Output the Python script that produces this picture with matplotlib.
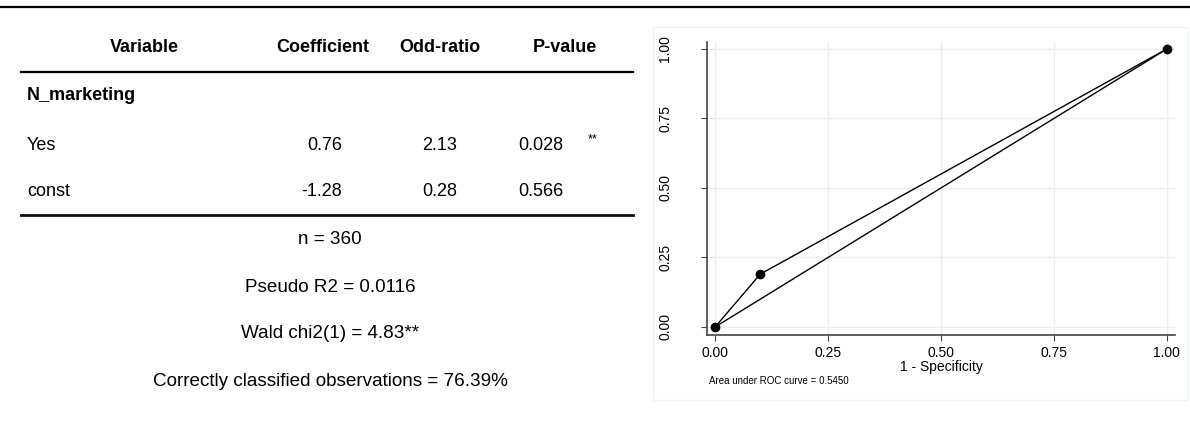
import matplotlib.pyplot as plt
from matplotlib.patches import Rectangle

plt.rcParams['font.family'] = ['Liberation Sans', 'DejaVu Sans']

# logit table
group = "N_marketing"
rows = ["Yes", "const"]
coefs = [0.76, -1.28]
odds = [2.13, 0.28]
pvals = [0.028, 0.566]
stars = ["**", ""]
headers = ["Variable", "Coefficient", "Odd-ratio", "P-value"]

stats = ["n = 360",
         "Pseudo R2 = 0.0116",
         "Wald chi2(1) = 4.83**",
         "Correctly classified observations = 76.39%"]

# ROC curve
fpr = [0.0, 0.10, 1.0]
tpr = [0.0, 0.19, 1.0]
auc = 0.5450
ticks = [0.0, 0.25, 0.50, 0.75, 1.00]

W, H = 1190, 437
fig = plt.figure(figsize=(W / 100, H / 100), dpi=100)

# overlay axes in pixel units for the table
tab = fig.add_axes([0, 0, 1, 1])
tab.set_xlim(0, W)
tab.set_ylim(H, 0)
tab.axis("off")

tab.plot([0, W], [7, 7], color="black", lw=1.6)
tab.plot([21, 633], [72, 72], color="black", lw=1.6)
tab.plot([21, 633], [215, 215], color="#111111", lw=2.0)

col_x = [144, 323, 440, 565]
for x, h in zip(col_x, headers):
    tab.text(x, 48, h, ha="center", va="center", fontsize=13, fontweight="bold")

tab.text(27, 96, group, ha="left", va="center", fontsize=13, fontweight="bold")

row_y = [145, 192]
for y, name, c, o, p, s in zip(row_y, rows, coefs, odds, pvals, stars):
    tab.text(27, y, name, ha="left", va="center", fontsize=13)
    tab.text(342, y, f"{c:.2f}", ha="right", va="center", fontsize=13)
    tab.text(440, y, f"{o:.2f}", ha="center", va="center", fontsize=13)
    tab.text(518, y, f"{p:.3f}", ha="left", va="center", fontsize=13)
    if s:
        tab.text(588, y - 6, s, ha="left", va="center", fontsize=9)

for i, s in enumerate(stats):
    tab.text(330, 240 + i * 47, s, ha="center", va="center", fontsize=13.6)

# faint graph region frame
tab.add_patch(Rectangle((653, 27), 535, 373, facecolor="none",
                        edgecolor="#eef3f3", lw=1))

# ROC plot
ax = fig.add_axes([707 / W, 1 - 335 / H, (1175 - 707) / W, (335 - 42) / H])
ax.set_xlim(-0.018, 1.018)
ax.set_ylim(-0.029, 1.025)
ax.grid(True, color="#e6eff1", lw=1)
ax.set_axisbelow(True)
ax.plot([0, 1], [0, 1], color="black", lw=1)
ax.plot(fpr, tpr, color="black", lw=1, marker="o", ms=6)

for side in ["top", "right"]:
    ax.spines[side].set_visible(False)
for side in ["left", "bottom"]:
    ax.spines[side].set_color("#444444")
    ax.spines[side].set_linewidth(1.2)

ax.set_xticks(ticks)
ax.set_yticks(ticks)
ax.set_xticklabels([f"{t:.2f}" for t in ticks], fontsize=10)
ax.set_yticklabels([f"{t:.2f}" for t in ticks], fontsize=10, rotation=90, va="center")
ax.tick_params(axis="x", direction="out", length=4, pad=4, color="#444444")
ax.tick_params(axis="y", direction="out", length=4, pad=21, color="#444444")
ax.set_xlabel("1 - Specificity", fontsize=10, labelpad=0)

fig.text(709 / W, 1 - 381 / H, f"Area under ROC curve = {auc:.4f}",
         ha="left", va="center", fontsize=7)

fig.savefig("out.png", dpi=100)
